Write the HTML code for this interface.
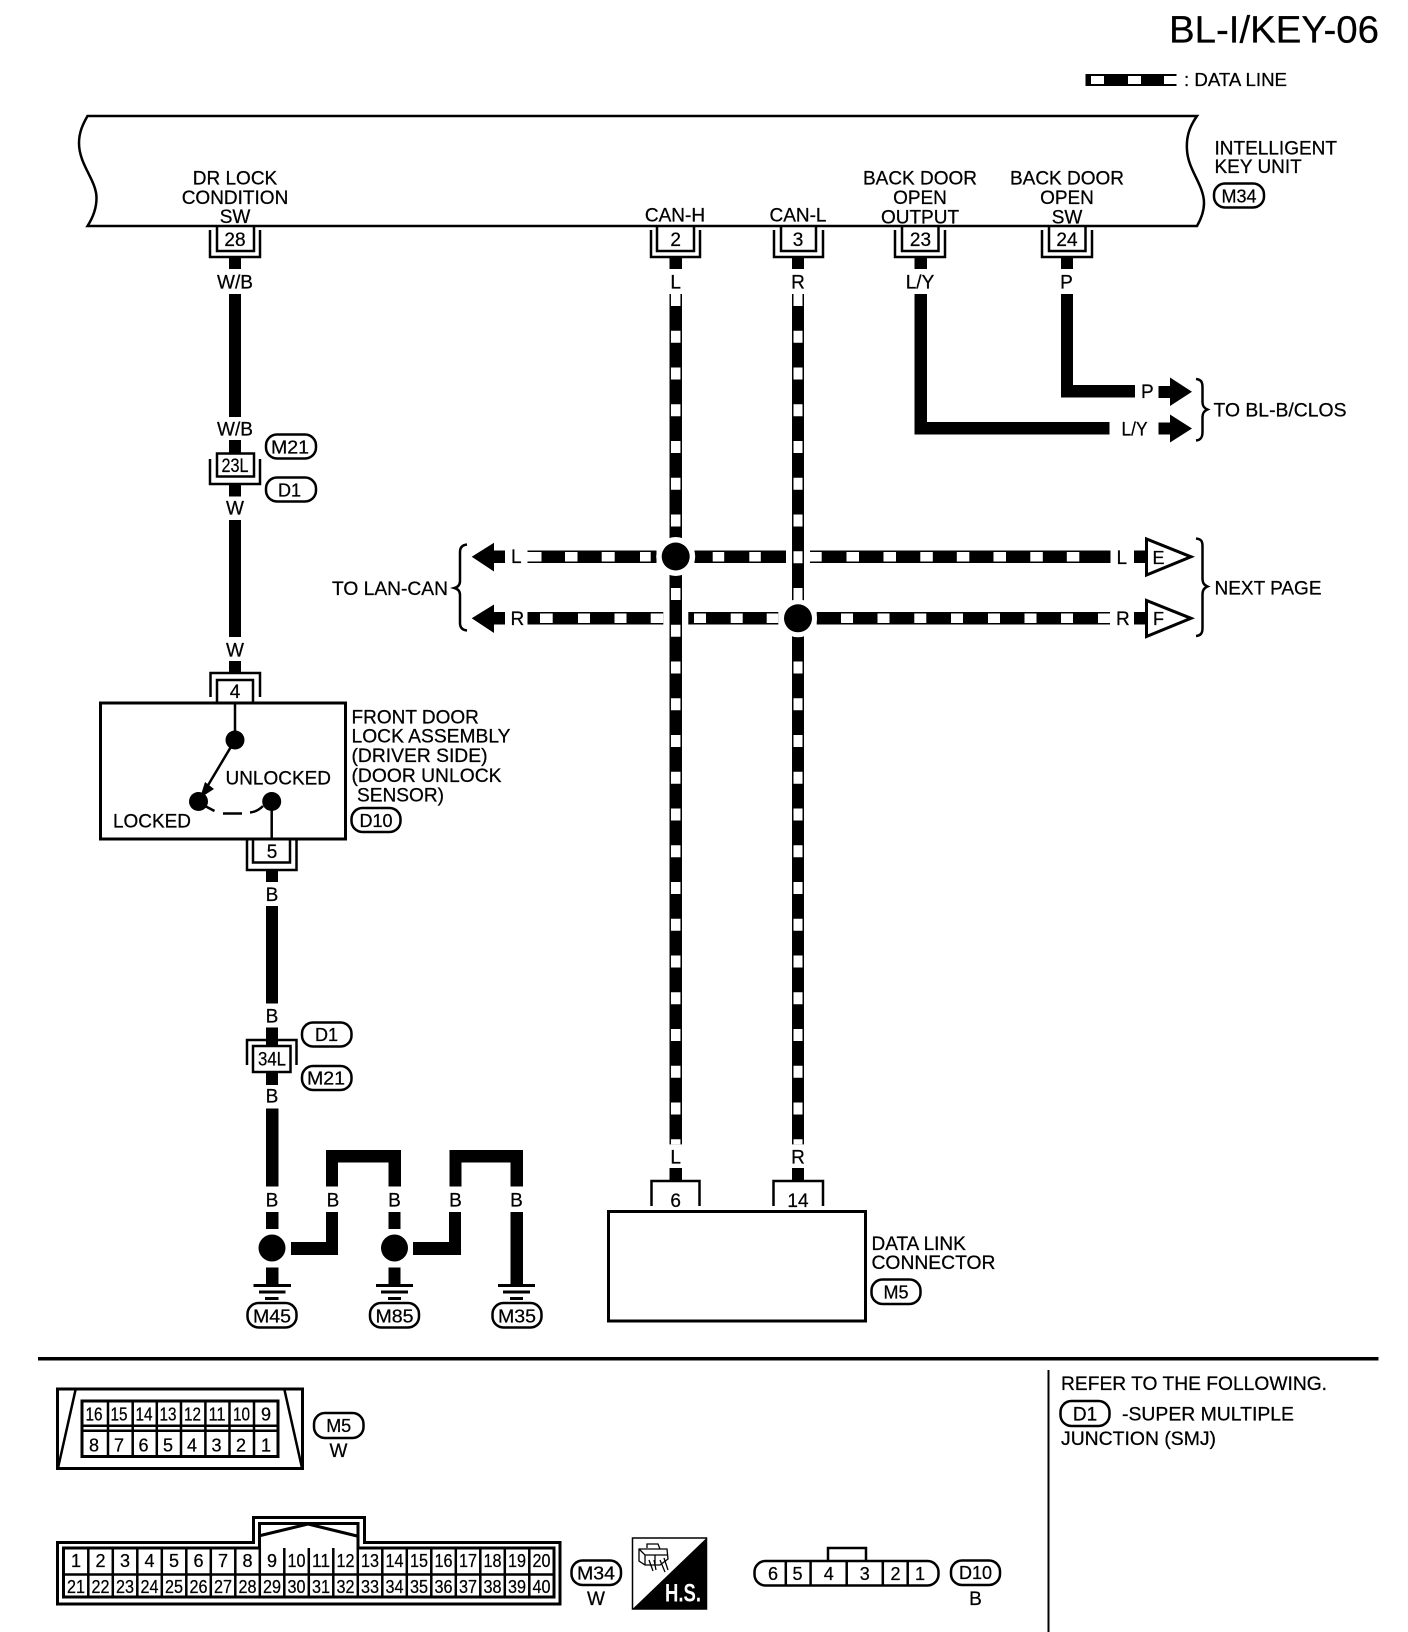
<!DOCTYPE html>
<html><head><meta charset="utf-8"><title>BL-I/KEY-06</title>
<style>
html,body{margin:0;padding:0;background:#fff}
svg{display:block}
text{font-family:"Liberation Sans",sans-serif;font-size:19px;fill:#000;stroke:#000;stroke-width:.25}
.m{text-anchor:middle}
.s{font-size:18px}
.l{fill:none;stroke:#000;stroke-width:2.5}
.o{fill:#fff;stroke:#000;stroke-width:2.5}
.t{fill:none;stroke:#000;stroke-width:3}
</style></head><body>
<svg xmlns="http://www.w3.org/2000/svg" width="1408" height="1632" viewBox="0 0 1408 1632">
<rect width="1408" height="1632" fill="#fff"/>

<!-- title and legend -->
<text x="1169" y="42.5" style="font-size:38px" textLength="210" lengthAdjust="spacingAndGlyphs">BL-I/KEY-06</text>
<rect x="1085.5" y="74" width="91" height="12" fill="#000"/>
<rect x="1091" y="76" width="13" height="8" fill="#fff"/>
<rect x="1128" y="76" width="13" height="8" fill="#fff"/>
<rect x="1164" y="76" width="14" height="8" fill="#fff"/>
<text x="1184" y="86" class="s" textLength="103" lengthAdjust="spacingAndGlyphs">: DATA LINE</text>

<!-- main unit -->
<path class="l" d="M87.5 116 H1197 C1190 126 1186 136 1187 150 C1188 170 1204 185 1204 203 C1204 212 1201 219 1197 226 H87.5 C92 219 96.5 210 96.5 198 C96.5 180 79 165 79 143 C79 132 83 124 87.5 116 Z" style="fill:#fff"/>
<text class="m" x="235" y="184.5">DR LOCK</text>
<text class="m" x="235" y="204">CONDITION</text>
<text class="m" x="235" y="223">SW</text>
<text class="m" x="675" y="221.5">CAN-H</text>
<text class="m" x="798" y="221.5">CAN-L</text>
<text class="m" x="920" y="184.5">BACK DOOR</text>
<text class="m" x="920" y="204">OPEN</text>
<text class="m" x="920" y="223.5">OUTPUT</text>
<text class="m" x="1067" y="184.5">BACK DOOR</text>
<text class="m" x="1067" y="204">OPEN</text>
<text class="m" x="1067" y="223.5">SW</text>
<text x="1214.5" y="154.5">INTELLIGENT</text>
<text x="1214.5" y="173">KEY UNIT</text>
<rect class="o" x="1214" y="183.5" width="50" height="24" rx="11"/>
<text class="m s" x="1239" y="202.5">M34</text>

<!-- pins on unit -->
<path class="l" d="M217 226 V251 H254 V226 M210 230 V257 H260 V230"/>
<text class="m" x="235" y="246">28</text>
<path class="l" d="M657 226 V251 H694 V226 M651 230 V257 H700 V230"/>
<text class="m" x="675.7" y="246">2</text>
<path class="l" d="M781 226 V251 H816 V226 M774 230 V257 H823 V230"/>
<text class="m" x="798" y="246">3</text>
<path class="l" d="M902 226 V251 H938.5 V226 M895 230 V257 H945 V230"/>
<text class="m" x="920.5" y="246">23</text>
<path class="l" d="M1049 226 V251 H1085.5 V226 M1042 230 V257 H1092 V230"/>
<text class="m" x="1067" y="246">24</text>

<!-- stubs -->
<rect x="229" y="258" width="12" height="11" />
<rect x="669.5" y="258" width="12.5" height="11"/>
<rect x="792" y="258" width="12" height="11"/>
<rect x="914.5" y="258" width="12.5" height="11"/>
<rect x="1061" y="258" width="12" height="11"/>
<text class="m" x="235" y="288.5">W/B</text>
<text class="m" x="675.7" y="288.5">L</text>
<text class="m" x="798" y="288.5">R</text>
<text class="m" x="920" y="288.5">L/Y</text>
<text class="m" x="1066.5" y="288.5">P</text>

<!-- left chain -->
<rect x="229" y="294" width="12" height="123"/>
<text class="m" x="235" y="435.5">W/B</text>
<rect x="229" y="440" width="12" height="14"/>
<path class="l" d="M210 459 V484 H260 V459"/>
<rect class="l" x="217" y="453.5" width="37" height="23" style="fill:#fff"/>
<text class="m" x="235" y="472" textLength="27" lengthAdjust="spacingAndGlyphs">23L</text>
<rect x="229" y="484" width="12" height="12.5"/>
<rect class="o" x="266" y="434.5" width="50" height="24" rx="11"/>
<text class="m s" x="290" y="453.5" textLength="38" lengthAdjust="spacingAndGlyphs">M21</text>
<rect class="o" x="266" y="477.5" width="50" height="24" rx="11"/>
<text class="m s" x="289.5" y="496.5">D1</text>
<text class="m" x="235" y="514.5">W</text>
<rect x="229" y="520" width="12" height="117"/>
<text class="m" x="235" y="656.5">W</text>
<rect x="229" y="661" width="12" height="11"/>

<!-- front door lock -->
<path class="l" d="M210.5 697 V673 H260 V697 M217 702 V680 H253 V702"/>
<text class="m" x="235" y="698">4</text>
<rect x="100.5" y="703" width="245" height="136" fill="none" stroke="#000" stroke-width="3"/>
<path class="l" d="M235 703 V740 L204 792 M271.7 801 V839"/>
<circle cx="235" cy="740" r="9.5"/>
<circle cx="198.5" cy="801.5" r="9.5"/>
<circle cx="271.7" cy="801.5" r="9.5"/>
<polygon points="200,798 205,782 214,789"/>
<path class="l" d="M205 806 L214.5 811 M223 813.5 H242 M250 812.5 C255 812 259 810 263 806"/>
<text x="225.5" y="784.5" textLength="105.5" lengthAdjust="spacingAndGlyphs">UNLOCKED</text>
<text x="113" y="827.5" textLength="78" lengthAdjust="spacingAndGlyphs">LOCKED</text>
<text x="351.5" y="723.5">FRONT DOOR</text>
<text x="351.5" y="742.5" textLength="159" lengthAdjust="spacingAndGlyphs">LOCK ASSEMBLY</text>
<text x="351.5" y="762" textLength="136" lengthAdjust="spacingAndGlyphs">(DRIVER SIDE)</text>
<text x="351.5" y="782" textLength="150" lengthAdjust="spacingAndGlyphs">(DOOR UNLOCK</text>
<text x="357" y="801.5" textLength="87" lengthAdjust="spacingAndGlyphs">SENSOR)</text>
<rect class="o" x="351.5" y="808" width="49" height="24" rx="11"/>
<text class="m s" x="376" y="827">D10</text>

<path class="l" d="M253 840 V862.5 H290 V840 M247 840 V870 H296.5 V840"/>
<text class="m" x="272" y="858">5</text>
<rect x="266" y="871" width="12" height="11"/>
<text class="m" x="272" y="901">B</text>
<rect x="266" y="906" width="12" height="97.5"/>
<text class="m" x="272" y="1022.5">B</text>
<rect x="266" y="1027.5" width="12" height="18"/>
<path class="l" d="M247 1065 V1040 H296.5 V1065"/>
<rect class="l" x="253" y="1046" width="37.5" height="26" style="fill:#fff"/>
<text class="m" x="272" y="1065.5" textLength="28" lengthAdjust="spacingAndGlyphs">34L</text>
<rect x="266" y="1072" width="12" height="13"/>
<rect class="o" x="302" y="1022.5" width="49.5" height="24" rx="11"/>
<text class="m s" x="326.5" y="1041">D1</text>
<rect class="o" x="302" y="1066" width="49.5" height="24" rx="11"/>
<text class="m s" x="326" y="1084.5" textLength="38" lengthAdjust="spacingAndGlyphs">M21</text>
<text class="m" x="272" y="1102.5">B</text>
<rect x="266" y="1108.5" width="12.5" height="78"/>

<!-- ground section -->
<path d="M326 1186.5 V1150 H401 V1186.5 H388.5 V1162.5 H338 V1186.5 Z"/>
<path d="M449.5 1186.5 V1150 H523 V1186.5 H510.5 V1162.5 H461.5 V1186.5 Z"/>
<text class="m" x="272" y="1206.5">B</text>
<text class="m" x="333" y="1206.5">B</text>
<text class="m" x="394.5" y="1206.5">B</text>
<text class="m" x="455.5" y="1206.5">B</text>
<text class="m" x="516.5" y="1206.5">B</text>
<rect x="266" y="1212" width="12.5" height="17"/>
<rect x="388.5" y="1212" width="12" height="17"/>
<circle cx="272" cy="1248" r="13.5"/>
<circle cx="394.5" cy="1248" r="13.5"/>
<path d="M291 1242 H326 V1212 H338 V1255 H291 Z"/>
<path d="M413 1242 H449 V1212 H461 V1255 H413 Z"/>
<rect x="266" y="1267.5" width="12.5" height="17"/>
<rect x="388.5" y="1267.5" width="12" height="17"/>
<rect x="510.5" y="1212" width="12.5" height="72.5"/>
<path class="t" d="M253.5 1285.5 H291 M259 1292 H285.5 M265 1298.5 H278.5 M376 1285.5 H413 M381 1292 H408 M388 1298.5 H401 M498 1285.5 H535 M503 1292 H530 M510 1298.5 H523"/>
<rect class="o" x="247.5" y="1303" width="49" height="24.5" rx="11"/>
<text class="m s" x="272" y="1322.5" textLength="38" lengthAdjust="spacingAndGlyphs">M45</text>
<rect class="o" x="370" y="1303" width="49" height="24.5" rx="11"/>
<text class="m s" x="394.5" y="1322.5" textLength="38" lengthAdjust="spacingAndGlyphs">M85</text>
<rect class="o" x="492.5" y="1303" width="49" height="24.5" rx="11"/>
<text class="m s" x="517" y="1322.5" textLength="38" lengthAdjust="spacingAndGlyphs">M35</text>

<!-- CAN vertical lines -->
<rect x="669.5" y="294" width="12.5" height="850.4"/>
<rect x="792" y="294" width="12" height="850.4"/>
<line x1="675.7" y1="294" x2="675.7" y2="1144.4" stroke="#fff" stroke-width="9.5" stroke-dasharray="12 24.75"/>
<line x1="798" y1="294" x2="798" y2="1144.4" stroke="#fff" stroke-width="9" stroke-dasharray="12 24.75"/>

<!-- L horizontal -->
<rect x="527.5" y="550.5" width="129" height="12.5"/>
<rect x="694.3" y="550.5" width="91.7" height="12.5"/>
<rect x="810" y="550.5" width="300.5" height="12.5"/>
<g fill="#fff">
<rect x="527.5" y="552" width="14" height="9.5"/>
<rect x="565" y="552" width="12.5" height="9.5"/>
<rect x="601.7" y="552" width="13" height="9.5"/>
<rect x="640" y="552" width="10.7" height="9.5"/>
<rect x="712.7" y="552" width="11.5" height="9.5"/>
<rect x="749.3" y="552" width="11.5" height="9.5"/>
<rect x="810" y="552" width="11.7" height="9.5"/>
<rect x="846.5" y="552" width="12.5" height="9.5"/>
<rect x="883.5" y="552" width="12.5" height="9.5"/>
<rect x="920.3" y="552" width="12.5" height="9.5"/>
<rect x="956.8" y="552" width="12.5" height="9.5"/>
<rect x="993.5" y="552" width="12.5" height="9.5"/>
<rect x="1030.3" y="552" width="12.5" height="9.5"/>
<rect x="1066.8" y="552" width="12.5" height="9.5"/>
</g>

<!-- R horizontal -->
<rect x="527.5" y="612" width="135.8" height="12.5"/>
<rect x="688.3" y="612" width="90" height="12.5"/>
<rect x="816.7" y="612" width="293.3" height="12.5"/>
<g fill="#fff">
<rect x="540" y="613.5" width="12.7" height="9.5"/>
<rect x="578" y="613.5" width="12" height="9.5"/>
<rect x="614.5" y="613.5" width="12" height="9.5"/>
<rect x="650.7" y="613.5" width="12.6" height="9.5"/>
<rect x="694" y="613.5" width="12" height="9.5"/>
<rect x="730.7" y="613.5" width="12" height="9.5"/>
<rect x="766.7" y="613.5" width="11.6" height="9.5"/>
<rect x="841" y="613.5" width="12" height="9.5"/>
<rect x="877.5" y="613.5" width="12" height="9.5"/>
<rect x="914.3" y="613.5" width="12" height="9.5"/>
<rect x="951" y="613.5" width="12" height="9.5"/>
<rect x="988" y="613.5" width="12" height="9.5"/>
<rect x="1024.5" y="613.5" width="12" height="9.5"/>
<rect x="1061" y="613.5" width="12" height="9.5"/>
<rect x="1098" y="613.5" width="12" height="9.5"/>
</g>

<!-- junctions -->
<circle cx="675.7" cy="556.5" r="19.5" fill="#fff"/>
<circle cx="675.7" cy="556.5" r="14"/>
<circle cx="798" cy="618.3" r="19" fill="#fff"/>
<circle cx="798" cy="618.3" r="14"/>

<!-- left arrows -->
<polygon points="471.7,556.7 494,542.7 494,550.5 505,550.5 505,563 494,563 494,571.5"/>
<polygon points="471.7,618.3 494,604.5 494,612 505,612 505,624.5 494,624.5 494,633"/>
<text x="511" y="563">L</text>
<text x="510.5" y="625">R</text>
<path class="l" d="M467 544.5 C462 545 460 548 460 552 V581 C460 585 458 587 454.5 588 C458 589 460 591 460 595 V623 C460 627 462 630 467 630.5"/>
<text x="332" y="595" textLength="116" lengthAdjust="spacingAndGlyphs">TO LAN-CAN</text>

<!-- right side data ends -->
<text x="1116.5" y="564">L</text>
<text x="1116" y="625">R</text>
<rect x="1134" y="550.5" width="13" height="12.5"/>
<rect x="1134" y="612" width="13" height="12.5"/>
<polygon class="t" points="1146.5,539 1146.5,575 1191,556.8" style="fill:#fff"/>
<polygon class="t" points="1146.5,600.5 1146.5,636.5 1191,618.3" style="fill:#fff"/>
<text class="m" x="1158.500" y="564" style="font-size:18px">E</text>
<text class="m" x="1158.500" y="625" style="font-size:18px">F</text>
<path class="l" d="M1196 538.5 C1201 539 1202.5 541 1202.5 546 V578 C1202.5 583 1204 585 1207.5 586.5 C1204 588 1202.5 590 1202.5 595 V628 C1202.5 633 1201 635.5 1196 636"/>
<text x="1214.5" y="594.5" textLength="107" lengthAdjust="spacingAndGlyphs">NEXT PAGE</text>

<!-- back door wires -->
<path d="M1061 294 H1073 V385 H1135 V397.5 H1061 Z"/>
<path d="M914.5 294 H927 V422 H1109.5 V434.5 H914.5 Z"/>
<text x="1141" y="398">P</text>
<text x="1121.5" y="435.5" textLength="26" lengthAdjust="spacingAndGlyphs">L/Y</text>
<polygon points="1158.500,386 1170,386 1170,377.5 1192,391.7 1170,406 1170,398 1158.5,398"/>
<polygon points="1158.500,422.5 1170,422.5 1170,414.5 1192,428.5 1170,442.5 1170,434.5 1158.5,434.5"/>
<path class="l" d="M1196 379 C1201 379.5 1202.5 382 1202.5 387 V402 C1202.5 406 1204 408 1207.5 409.5 C1204 411 1202.5 413 1202.5 417 V432 C1202.5 437 1201 440 1196 440.5"/>
<text x="1213.5" y="416.5" textLength="133" lengthAdjust="spacingAndGlyphs">TO BL-B/CLOS</text>

<!-- data link connector -->
<text class="m" x="675.7" y="1163.5">L</text>
<text class="m" x="798" y="1163.5">R</text>
<rect x="669.5" y="1168" width="12.5" height="12"/>
<rect x="792" y="1168" width="12" height="12"/>
<path class="l" d="M651.5 1206 V1181 H699.5 V1206 M773.5 1206 V1181 H823 V1206"/>
<text class="m" x="675.7" y="1207">6</text>
<text class="m" x="798" y="1207">14</text>
<rect x="608.5" y="1211.5" width="257" height="109.5" fill="#fff" stroke="#000" stroke-width="3"/>
<text x="871.5" y="1250">DATA LINK</text>
<text x="871.5" y="1269" textLength="124" lengthAdjust="spacingAndGlyphs">CONNECTOR</text>
<rect class="o" x="871.5" y="1279.5" width="49" height="24.5" rx="11"/>
<text class="m s" x="896" y="1298.5">M5</text>

<!-- divider -->
<rect x="38" y="1357" width="1340.5" height="3.5"/>
<rect x="1047.5" y="1370" width="2" height="262"/>
<text x="1061" y="1390" textLength="266" lengthAdjust="spacingAndGlyphs">REFER TO THE FOLLOWING.</text>
<rect class="o" x="1060.5" y="1401" width="49" height="25" rx="11"/>
<text class="m" x="1085" y="1420.5">D1</text>
<text x="1122" y="1420.5" textLength="172" lengthAdjust="spacingAndGlyphs">-SUPER MULTIPLE</text>
<text x="1061" y="1445" textLength="155" lengthAdjust="spacingAndGlyphs">JUNCTION (SMJ)</text>

<!-- M5 connector -->
<rect x="57.5" y="1389" width="245" height="79.5" fill="none" stroke="#000" stroke-width="3"/>
<path class="l" d="M75.5 1390 L58 1468 M284.5 1390 L302 1468"/>
<rect x="82" y="1401" width="196" height="55.5" fill="none" stroke="#000" stroke-width="3"/>
<rect x="81" y="1424.5" width="198" height="2.5"/>
<rect x="81" y="1429.5" width="198" height="2.5"/>
<path class="l" d="M108 1401 V1456 M132.7 1401 V1456 M156.8 1401 V1456 M181 1401 V1456 M205.4 1401 V1456 M229.5 1401 V1456 M254 1401 V1456"/>
<text class="m s" x="94" y="1420.5" textLength="17" lengthAdjust="spacingAndGlyphs">16</text>
<text class="m s" x="119" y="1420.5" textLength="17" lengthAdjust="spacingAndGlyphs">15</text>
<text class="m s" x="144" y="1420.5" textLength="17" lengthAdjust="spacingAndGlyphs">14</text>
<text class="m s" x="168" y="1420.5" textLength="17" lengthAdjust="spacingAndGlyphs">13</text>
<text class="m s" x="192.500" y="1420.5" textLength="17" lengthAdjust="spacingAndGlyphs">12</text>
<text class="m s" x="217" y="1420.5" textLength="17" lengthAdjust="spacingAndGlyphs">11</text>
<text class="m s" x="241.5" y="1420.5" textLength="17" lengthAdjust="spacingAndGlyphs">10</text>
<text class="m s" x="266" y="1420.5">9</text>
<text class="m s" x="94" y="1451.5">8</text>
<text class="m s" x="119" y="1451.5">7</text>
<text class="m s" x="143.500" y="1451.5">6</text>
<text class="m s" x="168" y="1451.5">5</text>
<text class="m s" x="192" y="1451.5">4</text>
<text class="m s" x="216.500" y="1451.5">3</text>
<text class="m s" x="241" y="1451.5">2</text>
<text class="m s" x="266" y="1451.5">1</text>
<rect class="o" x="314" y="1413" width="49.5" height="25" rx="11"/>
<text class="m s" x="338.7" y="1432">M5</text>
<text class="m" x="338.500" y="1457">W</text>

<!-- M34 connector -->
<path class="t" d="M57.5 1542.5 H253.5 V1517.5 H364.5 V1542.5 H560 V1604 H57.5 Z"/>
<path class="t" d="M63.5 1548 H259.5 V1523.5 H358 V1548 H554 V1597 H63.5 Z"/>
<path class="t" d="M260.5 1535.5 L308 1524 L357 1536"/>
<path class="l" d="M63.5 1574.5 H554"/>
<path class="l" d="M88.3 1548 V1597 M112.8 1548 V1597 M137.3 1548 V1597 M161.8 1548 V1597 M186.3 1548 V1597 M210.8 1548 V1597 M235.3 1548 V1597 M259.8 1548 V1597 M284.3 1548 V1597 M308.8 1548 V1597 M333.3 1548 V1597 M357.8 1548 V1597 M382.3 1548 V1597 M406.8 1548 V1597 M431.3 1548 V1597 M455.8 1548 V1597 M480.3 1548 V1597 M504.8 1548 V1597 M529.3 1548 V1597"/>
<text class="m s" x="76" y="1567">1</text>
<text class="m s" x="100.5" y="1567">2</text>
<text class="m s" x="125" y="1567">3</text>
<text class="m s" x="149.5" y="1567">4</text>
<text class="m s" x="174" y="1567">5</text>
<text class="m s" x="198.5" y="1567">6</text>
<text class="m s" x="223" y="1567">7</text>
<text class="m s" x="247.5" y="1567">8</text>
<text class="m s" x="272" y="1567">9</text>
<text class="m s" x="296.5" y="1567" textLength="18" lengthAdjust="spacingAndGlyphs">10</text>
<text class="m s" x="321" y="1567" textLength="18" lengthAdjust="spacingAndGlyphs">11</text>
<text class="m s" x="345.5" y="1567" textLength="18" lengthAdjust="spacingAndGlyphs">12</text>
<text class="m s" x="370" y="1567" textLength="18" lengthAdjust="spacingAndGlyphs">13</text>
<text class="m s" x="394.5" y="1567" textLength="18" lengthAdjust="spacingAndGlyphs">14</text>
<text class="m s" x="419" y="1567" textLength="18" lengthAdjust="spacingAndGlyphs">15</text>
<text class="m s" x="443.5" y="1567" textLength="18" lengthAdjust="spacingAndGlyphs">16</text>
<text class="m s" x="468" y="1567" textLength="18" lengthAdjust="spacingAndGlyphs">17</text>
<text class="m s" x="492.5" y="1567" textLength="18" lengthAdjust="spacingAndGlyphs">18</text>
<text class="m s" x="517" y="1567" textLength="18" lengthAdjust="spacingAndGlyphs">19</text>
<text class="m s" x="541.5" y="1567" textLength="18" lengthAdjust="spacingAndGlyphs">20</text>
<text class="m s" x="76" y="1593" textLength="18" lengthAdjust="spacingAndGlyphs">21</text>
<text class="m s" x="100.5" y="1593" textLength="18" lengthAdjust="spacingAndGlyphs">22</text>
<text class="m s" x="125" y="1593" textLength="18" lengthAdjust="spacingAndGlyphs">23</text>
<text class="m s" x="149.5" y="1593" textLength="18" lengthAdjust="spacingAndGlyphs">24</text>
<text class="m s" x="174" y="1593" textLength="18" lengthAdjust="spacingAndGlyphs">25</text>
<text class="m s" x="198.5" y="1593" textLength="18" lengthAdjust="spacingAndGlyphs">26</text>
<text class="m s" x="223" y="1593" textLength="18" lengthAdjust="spacingAndGlyphs">27</text>
<text class="m s" x="247.5" y="1593" textLength="18" lengthAdjust="spacingAndGlyphs">28</text>
<text class="m s" x="272" y="1593" textLength="18" lengthAdjust="spacingAndGlyphs">29</text>
<text class="m s" x="296.5" y="1593" textLength="18" lengthAdjust="spacingAndGlyphs">30</text>
<text class="m s" x="321" y="1593" textLength="18" lengthAdjust="spacingAndGlyphs">31</text>
<text class="m s" x="345.5" y="1593" textLength="18" lengthAdjust="spacingAndGlyphs">32</text>
<text class="m s" x="370" y="1593" textLength="18" lengthAdjust="spacingAndGlyphs">33</text>
<text class="m s" x="394.5" y="1593" textLength="18" lengthAdjust="spacingAndGlyphs">34</text>
<text class="m s" x="419" y="1593" textLength="18" lengthAdjust="spacingAndGlyphs">35</text>
<text class="m s" x="443.5" y="1593" textLength="18" lengthAdjust="spacingAndGlyphs">36</text>
<text class="m s" x="468" y="1593" textLength="18" lengthAdjust="spacingAndGlyphs">37</text>
<text class="m s" x="492.5" y="1593" textLength="18" lengthAdjust="spacingAndGlyphs">38</text>
<text class="m s" x="517" y="1593" textLength="18" lengthAdjust="spacingAndGlyphs">39</text>
<text class="m s" x="541.5" y="1593" textLength="18" lengthAdjust="spacingAndGlyphs">40</text>
<rect class="o" x="571.5" y="1560.5" width="49.5" height="24.5" rx="11"/>
<text class="m s" x="596" y="1579.5" textLength="38" lengthAdjust="spacingAndGlyphs">M34</text>
<text class="m" x="596" y="1605">W</text>

<!-- H.S. badge -->
<rect x="632.5" y="1538" width="74" height="71" fill="#fff" stroke="#000" stroke-width="1.5"/>
<polygon points="706.5,1538 706.5,1609 632.5,1609"/>
<path fill="none" stroke="#000" stroke-width="1.3" d="M639 1549 H667 L668 1559 L660 1565 H645 L639 1561 Z M639 1549 L645 1555 H668 M645 1555 V1565 M655 1555 V1565 M647 1548 V1544 H658 L660 1549 M649 1560 L653 1571 M654 1560 L656 1570 M660 1560 L665 1572 M664 1558 L668 1570"/>
<text x="665" y="1601.5" style="font-size:25px;font-weight:bold;fill:#fff;stroke:none" textLength="36" lengthAdjust="spacingAndGlyphs">H.S.</text>

<!-- D10 connector -->
<path class="l" d="M828 1560.5 V1548 H866 V1560.5"/>
<rect class="o" x="754.5" y="1561" width="184" height="24.5" rx="11"/>
<path class="l" d="M785.8 1561 V1585 M810.6 1561 V1585 M846.7 1561 V1585 M882.8 1561 V1585 M907.7 1561 V1585"/>
<text class="m s" x="773" y="1580">6</text>
<text class="m s" x="797.5" y="1580">5</text>
<text class="m s" x="828.7" y="1580">4</text>
<text class="m s" x="864.8" y="1580">3</text>
<text class="m s" x="895.5" y="1580">2</text>
<text class="m s" x="920" y="1580">1</text>
<rect class="o" x="951" y="1560.5" width="49" height="24.5" rx="11"/>
<text class="m s" x="975.5" y="1579">D10</text>
<text class="m" x="975.5" y="1605">B</text>
</svg>
</body></html>
